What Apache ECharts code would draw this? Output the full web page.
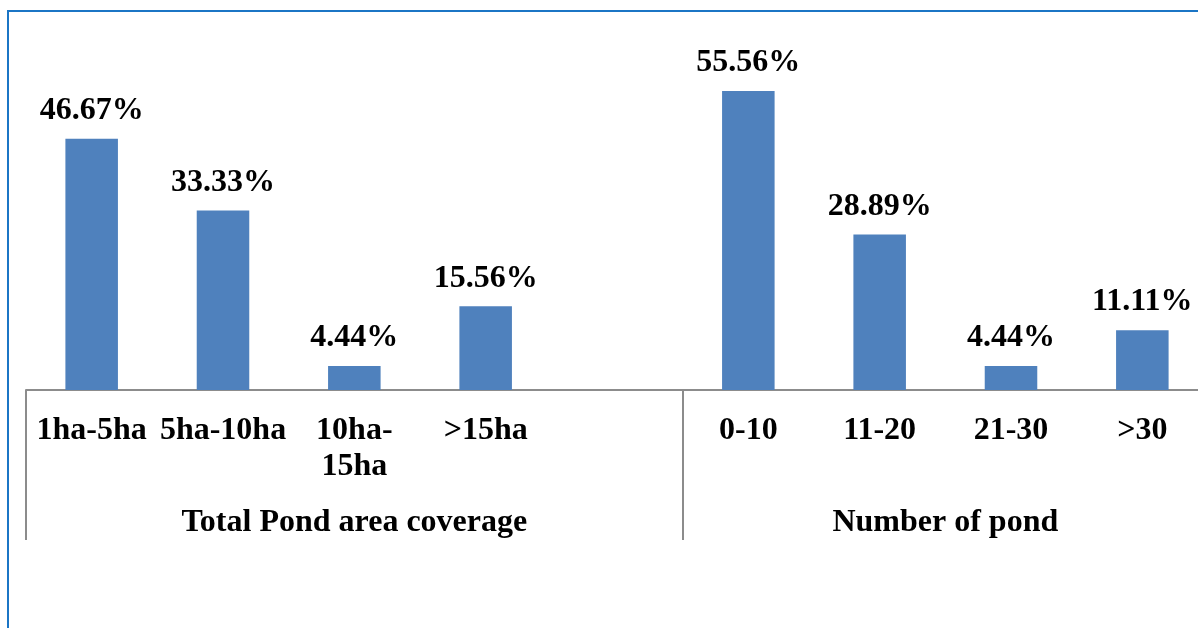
<!DOCTYPE html>
<html>
<head>
<meta charset="utf-8">
<script src="https://cdn.jsdelivr.net/npm/echarts@6/dist/echarts.min.js"></script>
<style>
  html, body { margin: 0; padding: 0; background: #fff; overflow: hidden; width: 1198px; height: 628px; }
  #frame { position: absolute; left: 7px; top: 10px; width: 1300px; height: 700px;
           border-left: 2px solid #1B75C5; border-top: 2px solid #1B75C5; }
  #chart { position: absolute; left: 0; top: 0; width: 1210px; height: 628px; }
</style>
</head>
<body>
<div id="frame"></div>
<div id="chart"></div>
<script>
// Pond survey: share of respondents by pond area and by number of ponds
var categories = ['1ha-5ha', '5ha-10ha', '10ha-\n15ha', '>15ha', '', '0-10', '11-20', '21-30', '>30'];
var shares = [46.67, 33.33, 4.44, 15.56, null, 55.56, 28.89, 4.44, 11.11];
var groupNames = ['Total Pond area coverage', 'Number of pond'];
var groupCenters = [2.5, 7];   // in slot units along the category axis
var groupBounds = [0, 5, 9];

var serif = '"Liberation Serif", "Times New Roman", serif';
var chart = echarts.init(document.getElementById('chart'));

chart.setOption({
  animation: false,
  grid: { left: 26, top: 67, right: 2, height: 323, containLabel: false },
  xAxis: [
    {
      type: 'category',
      data: categories,
      axisLine: { lineStyle: { color: '#8C8C8C', width: 2 } },
      axisTick: { show: false },
      axisLabel: {
        interval: 0, margin: 23, color: '#000', fontFamily: serif,
        fontWeight: 'bold', fontSize: 32, lineHeight: 36
      }
    },
    {
      type: 'value',
      position: 'bottom',
      min: 0, max: 9,
      axisLine: { show: false },
      splitLine: { show: false },
      axisTick: {
        show: true, inside: false, length: 150,
        customValues: groupBounds,
        lineStyle: { color: '#8C8C8C', width: 2 }
      },
      axisLabel: {
        customValues: groupCenters,
        margin: 117, color: '#000', fontFamily: serif,
        fontWeight: 'bold', fontSize: 32,
        formatter: function (v) { return groupNames[groupCenters.indexOf(v)]; }
      }
    }
  ],
  yAxis: {
    type: 'value', min: 0, max: 60,
    show: false
  },
  series: [{
    type: 'bar',
    data: shares,
    barWidth: '40%',
    itemStyle: { color: '#4F81BD' },
    label: {
      show: true, position: 'top', distance: 12,
      color: '#000', fontFamily: serif, fontWeight: 'bold', fontSize: 32,
      formatter: function (p) { return p.value.toFixed(2) + '%'; }
    }
  }]
});
</script>
</body>
</html>
